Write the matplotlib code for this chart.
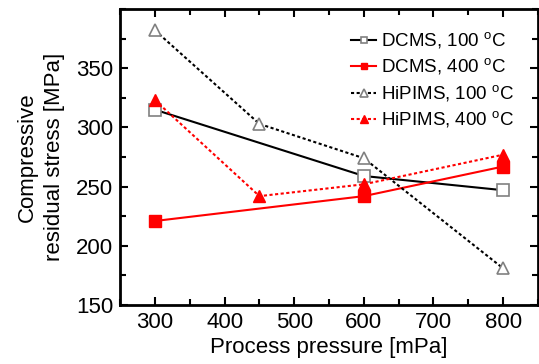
import matplotlib
matplotlib.use("Agg")
import matplotlib.pyplot as plt
from matplotlib.ticker import MultipleLocator

plt.rcParams['font.family'] = ['Liberation Sans', 'DejaVu Sans']
plt.rcParams['mathtext.fontset'] = 'custom'
plt.rcParams['mathtext.rm'] = 'Liberation Sans'

x_dcms = [300, 600, 800]
dcms_100 = [315, 259, 247]
dcms_400 = [221, 242, 267]
x_hipims = [300, 450, 600, 800]
hipims_100 = [382, 303, 274, 181]
hipims_400 = [323, 242, 252, 277]
labels = ['DCMS, 100 $^\\mathrm{o}$C', 'DCMS, 400 $^\\mathrm{o}$C',
          'HiPIMS, 100 $^\\mathrm{o}$C', 'HiPIMS, 400 $^\\mathrm{o}$C']

fig = plt.figure(figsize=(5.39, 3.64), dpi=100)
ax = fig.add_axes([0.223, 0.162, 0.775, 0.813])

ax.plot(x_dcms, dcms_100, color='black', lw=1.5, marker='s', ms=8,
        mfc='white', mec='#808080', mew=1.2, label=labels[0])
ax.plot(x_dcms, dcms_400, color='red', lw=1.5, marker='s', ms=8,
        mfc='red', mec='red', label=labels[1])
ax.plot(x_hipims, hipims_100, color='black', lw=1.5, ls=(0, (1.5, 1.2)), marker='^', ms=9,
        mfc='white', mec='#808080', mew=1.2, label=labels[2])
ax.plot(x_hipims, hipims_400, color='red', lw=1.5, ls=(0, (1.5, 1.2)), marker='^', ms=9,
        mfc='red', mec='red', label=labels[3])

ax.set_xlim(250, 850)
ax.set_ylim(150, 400)
ax.xaxis.set_major_locator(MultipleLocator(100))
ax.xaxis.set_minor_locator(MultipleLocator(50))
ax.set_yticks([150, 200, 250, 300, 350])
ax.yaxis.set_minor_locator(MultipleLocator(25))
ax.tick_params(which='both', direction='in', top=True, right=True, width=1.5, labelsize=16)
ax.tick_params(which='major', length=6, pad=5)
ax.tick_params(which='minor', length=4)
for s in ax.spines.values():
    s.set_linewidth(2)

ax.set_xlabel('Process pressure [mPa]', fontsize=16, labelpad=3)
ax.set_ylabel('Compressive\nresidual stress [MPa]', fontsize=16, labelpad=8, linespacing=1.35)

ax.legend(loc='upper right', frameon=False, fontsize=13.5, handlelength=1.3,
          handletextpad=0.3, labelspacing=0.3, markerscale=0.6,
          bbox_to_anchor=(0.985, 0.985))

fig.savefig('out.png', dpi=100)
